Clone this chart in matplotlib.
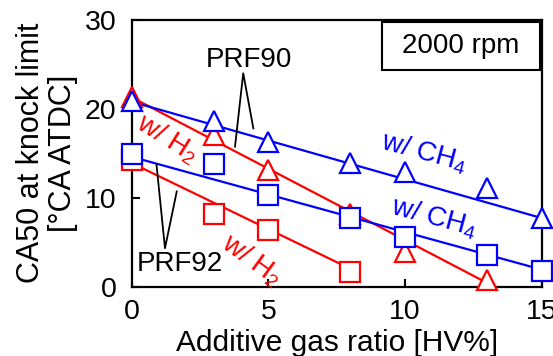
import numpy as np
import matplotlib
matplotlib.use("Agg")
import matplotlib.pyplot as plt
from matplotlib.patches import Rectangle

plt.rcParams['font.family'] = ['Liberation Sans', 'DejaVu Sans']
plt.rcParams['mathtext.fontset'] = 'custom'
plt.rcParams['mathtext.rm'] = 'Liberation Sans'
plt.rcParams['mathtext.it'] = 'Liberation Sans:italic'
plt.rcParams['mathtext.default'] = 'regular'

# Data (measured points)
x_prf90_ch4 = [0, 3, 5, 8, 10, 13, 15]
y_prf90_ch4 = [20.9, 18.6, 16.3, 13.9, 12.9, 11.1, 7.7]
x_prf90_h2 = [0, 3, 5, 8, 10, 13]
y_prf90_h2 = [21.3, 17.1, 13.1, 8.2, 3.9, 0.75]
x_prf92_ch4 = [0, 3, 5, 8, 10, 13, 15]
y_prf92_ch4 = [14.9, 13.8, 10.3, 7.7, 5.6, 3.6, 1.7]
x_prf92_h2 = [0, 3, 5, 8]
y_prf92_h2 = [14.2, 8.2, 6.4, 1.65]

# Trend lines (end points)
trend_x_prf90_ch4 = [0, 15]
trend_y_prf90_ch4 = [20.8, 7.7]
trend_x_prf90_h2 = [0, 13]
trend_y_prf90_h2 = [21.3, 0.4]
trend_x_prf92_ch4 = [0, 15]
trend_y_prf92_ch4 = [14.6, 1.9]
trend_x_prf92_h2 = [0, 8]
trend_y_prf92_h2 = [13.9, 2.0]

xticks = [0, 5, 10, 15]
yticks = [0, 10, 20, 30]

RED = '#ff0000'
BLUE = '#0000ff'

fig = plt.figure(figsize=(5.53, 3.56), dpi=100)
ax = fig.add_axes([0.238, 0.195, 0.742, 0.749])

def series(x, y, tx, ty, color, marker):
    ax.plot(tx, ty, color=color, lw=1.6, clip_on=False, zorder=2)
    ax.plot(x, y, linestyle='none', marker=marker, ms=14, mfc='white',
            mec=color, mew=1.6, clip_on=False, zorder=3)

series(x_prf90_h2, y_prf90_h2, trend_x_prf90_h2, trend_y_prf90_h2, RED, '^')
series(x_prf92_h2, y_prf92_h2, trend_x_prf92_h2, trend_y_prf92_h2, RED, 's')
series(x_prf90_ch4, y_prf90_ch4, trend_x_prf90_ch4, trend_y_prf90_ch4, BLUE, '^')
series(x_prf92_ch4, y_prf92_ch4, trend_x_prf92_ch4, trend_y_prf92_ch4, BLUE, 's')

ax.set_xlim(0, 15)
ax.set_ylim(0, 30)
ax.set_xticks(xticks)
ax.set_yticks(yticks)
ax.tick_params(direction='in', length=6, width=1.5, labelsize=20.5)
ax.tick_params(axis='x', pad=9)
ax.tick_params(axis='y', pad=11)
for s in ax.spines.values():
    s.set_linewidth(1.6)

ax.set_xlabel('Additive gas ratio [HV%]', fontsize=21.5, labelpad=3)
ax.set_ylabel('CA50 at knock limit\n[°CA ATDC]', fontsize=22, linespacing=1.08, labelpad=5)

# Annotations
ax.add_patch(Rectangle((0.6105, 0.8125), 0.3854, 0.18, transform=ax.transAxes,
                       fc='white', ec='black', lw=1.5, zorder=5))
ax.text(0.803, 0.9025, '2000 rpm', transform=ax.transAxes, fontsize=20,
        ha='center', va='center', zorder=6)

ax.text(4.3, 25.5, 'PRF90', fontsize=20, ha='center', va='center')
ax.plot([3.78, 4.08, 4.45], [15.75, 24.0, 17.8], color='black', lw=1.3, zorder=4)

ax.text(1.75, 2.5, 'PRF92', fontsize=20, ha='center', va='center')
ax.plot([0.91, 1.22, 1.65], [13.7, 4.32, 10.7], color='black', lw=1.3, zorder=4)

ax.text(1.29, 16.6, 'w/ H$_2$', color=RED, fontsize=20, ha='center', va='center', rotation=-32)
ax.text(4.4, 3.0, 'w/ H$_2$', color=RED, fontsize=20, ha='center', va='center', rotation=-36)
ax.text(10.7, 15.1, 'w/ CH$_4$', color=BLUE, fontsize=20, ha='center', va='center', rotation=-15)
ax.text(11.05, 7.7, 'w/ CH$_4$', color=BLUE, fontsize=20, ha='center', va='center', rotation=-15)

fig.savefig('out.png', dpi=100)
